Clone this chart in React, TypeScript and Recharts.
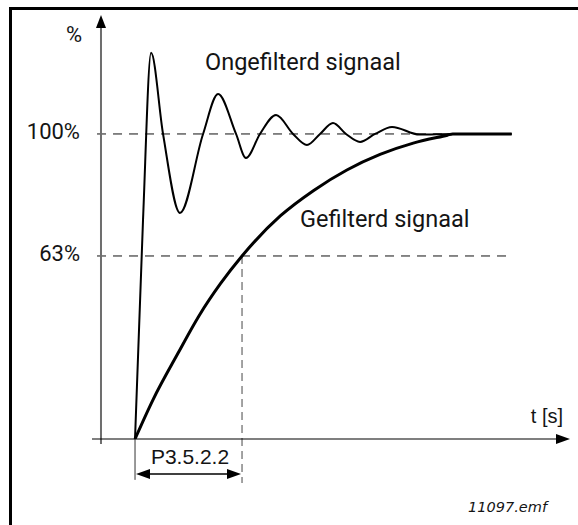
import React from 'react';
import {LineChart, Line, XAxis, YAxis, ReferenceLine, ReferenceDot} from 'recharts';

// time in units of the filter time constant, value in % of the final level
const rawTimes = [0, 0.075, 0.15, 0.262, 0.42, 0.636, 0.776, 0.944, 1.037, 1.168, 1.318, 1.477, 1.607, 1.729, 1.85, 1.972, 2.103, 2.243, 2.402, 2.66, 2.97, 3.52];
const rawValues = [0, 72, 126.6, 100, 74.1, 100, 113.1, 100, 92.1, 100, 106.2, 100, 96.4, 100, 103.6, 100, 97.4, 100, 102.3, 99.8, 100, 100];

const filtTimes = [0, 0.17, 0.4, 0.6, 0.8, 1.0, 1.36, 1.67, 1.98, 2.29, 2.6, 2.92, 2.97, 3.52];
const filtValues = [0, 13, 28, 40.5, 51, 60, 73.2, 81.5, 88.2, 93.3, 97, 99.6, 100, 100];

const levelValues = [100, 60];
const levelLabels = ['100%', '63%'];

const rawData = rawTimes.map((t, i) => ({t, v: rawValues[i]}));
const filtData = filtTimes.map((t, i) => ({t, v: filtValues[i]}));

const dinFont = 'Roboto, "Noto Sans", sans-serif';
const arialFont = '"Liberation Sans", Arial, sans-serif';

const yAxisShape = (p: any) => (
  <g>
    <line x1={p.x1} y1={p.y1} x2={p.x2} y2={p.y2 + 11} stroke="#6e6e6e" strokeWidth={2} />
    <polygon points={`${p.x2},${p.y2} ${p.x2 - 5},${p.y2 + 13} ${p.x2 + 5},${p.y2 + 13}`} fill="#000" />
  </g>
);

const xAxisShape = (p: any) => (
  <g>
    <line x1={p.x1} y1={p.y1} x2={p.x2 - 12} y2={p.y2} stroke="#000" strokeWidth={1.2} />
    <polygon points={`${p.x2},${p.y2} ${p.x2 - 14},${p.y2 - 5} ${p.x2 - 14},${p.y2 + 5}`} fill="#000" />
  </g>
);

const spanShape = (p: any) => (
  <g>
    <line x1={p.x1 + 10} y1={p.y1} x2={p.x2 - 10} y2={p.y2} stroke="#000" strokeWidth={1.5} />
    <polygon points={`${p.x1 + 1},${p.y1} ${p.x1 + 15},${p.y1 - 5} ${p.x1 + 15},${p.y1 + 5}`} fill="#000" />
    <polygon points={`${p.x2 - 1},${p.y2} ${p.x2 - 15},${p.y2 - 5} ${p.x2 - 15},${p.y2 + 5}`} fill="#000" />
  </g>
);

const note = (x: number, y: number, text: string, position: any, font: string, size: number, italic = false) => (
  <ReferenceDot
    key={text}
    x={x}
    y={y}
    r={0}
    fill="none"
    stroke="none"
    ifOverflow="visible"
    label={{value: text, position, offset: 0, fill: '#141414', fontSize: size, fontFamily: font, fontStyle: italic ? 'italic' : 'normal'}}
  />
);

export default function App() {
  return (
    <div style={{position: 'absolute', left: 0, top: 0, width: 578, height: 525, overflow: 'hidden', background: '#fff'}}>
      <div style={{position: 'absolute', left: 9, top: 7, width: 700, height: 700, borderLeft: '3px solid #000', borderTop: '3px solid #000'}} />
      <div style={{position: 'absolute', left: 0, top: 0}}>
        <LineChart width={578} height={525} margin={{top: 15, right: 8, bottom: 86, left: 92}}>
          <XAxis type="number" dataKey="t" domain={[-0.402, 4.065]} hide allowDataOverflow />
          <YAxis type="number" dataKey="v" domain={[0, 139]} hide allowDataOverflow />

          {levelValues.map((lv, i) => (
            <ReferenceLine
              key={lv}
              segment={[{x: -0.355, y: lv}, {x: i === 0 ? 2.97 : 3.5, y: lv}]}
              stroke="#111"
              strokeWidth={1}
              strokeDasharray="9 7"
              ifOverflow="visible"
            />
          ))}
          <ReferenceLine segment={[{x: 1, y: 60}, {x: 1, y: -14.4}]} stroke="#666" strokeWidth={1.2} strokeDasharray="8 5" ifOverflow="visible" />
          <ReferenceLine segment={[{x: 0, y: 0}, {x: 0, y: -13.4}]} stroke="#333" strokeWidth={1} ifOverflow="visible" />
          <ReferenceLine segment={[{x: -0.318, y: -1.6}, {x: -0.318, y: 139}]} shape={yAxisShape} ifOverflow="visible" />
          <ReferenceLine segment={[{x: -0.402, y: 0}, {x: 4.065, y: 0}]} shape={xAxisShape} ifOverflow="visible" />
          <ReferenceLine segment={[{x: 0, y: -11.5}, {x: 1, y: -11.5}]} shape={spanShape} ifOverflow="visible" />

          <Line data={rawData} dataKey="v" type="monotone" stroke="#000" strokeWidth={2} dot={false} isAnimationActive={false} />
          <Line data={filtData} dataKey="v" type="monotone" stroke="#000" strokeWidth={3} dot={false} isAnimationActive={false} />

          {note(-0.495, 132.7, '%', 'left', dinFont, 22)}
          {levelValues.map((lv, i) => note(-0.514, lv + 0.9, levelLabels[i], 'left', dinFont, 22))}
          {note(0.654, 123.7, 'Ongefilterd signaal', 'right', dinFont, 23.5)}
          {note(1.542, 72.2, 'Gefilterd signaal', 'right', dinFont, 23.5)}
          {note(4.0, 7.57, 't [s]', 'left', arialFont, 20)}
          {note(0.514, -5.74, 'P3.5.2.2', 'center', arialFont, 21)}
          {note(3.85, -22.3, '11097.emf', 'left', '"DejaVu Sans", Verdana, sans-serif', 14.5, true)}
        </LineChart>
      </div>
    </div>
  );
}
